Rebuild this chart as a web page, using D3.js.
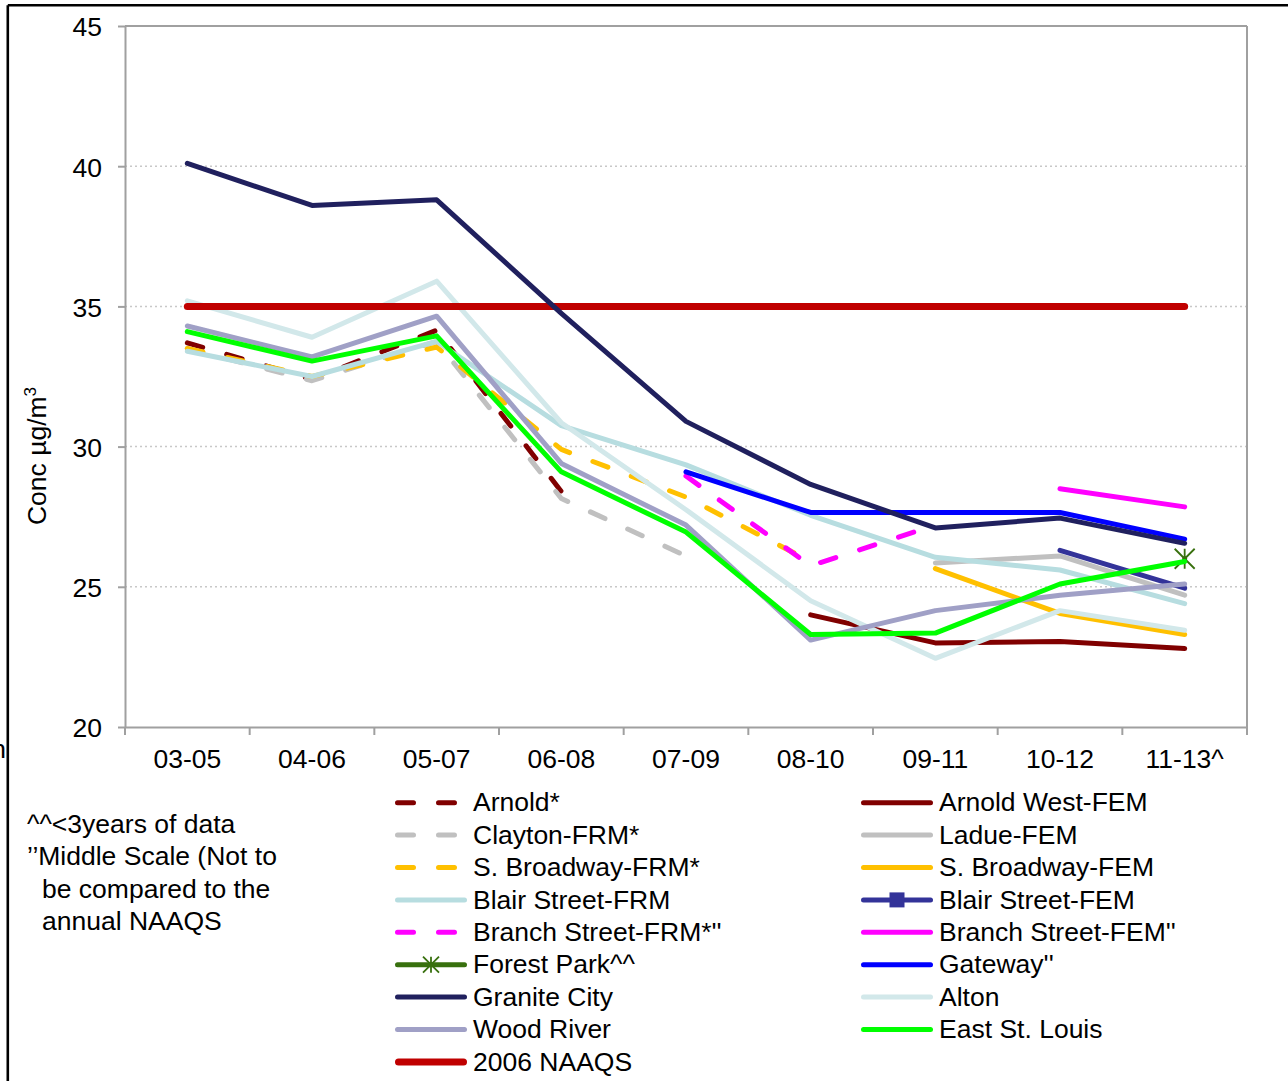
<!DOCTYPE html>
<meta charset="utf-8">

<style>
body { margin: 0; background: #fff; }
svg { font-family: "Liberation Sans", Arial, sans-serif; }
.axis text, .legend text, .note { font-size: 26.5px; fill: #000; }
.axis path, .axis line { stroke: #a0a0a0; stroke-width: 2px; }
.grid line { stroke: #c8c8c8; stroke-width: 1.5px; stroke-dasharray: 2,3; }
.series { fill: none; stroke-linejoin: round; stroke-linecap: round; }
</style>

<script src="https://d3js.org/d3.v7.min.js"></script>

<script>
  var categories = ["03-05", "04-06", "05-07", "06-08", "07-09", "08-10", "09-11", "10-12", "11-13^"];
  var yTicks = [20, 25, 30, 35, 40, 45];
  var gridTicks = [25, 30, 35, 40];

  // annual PM2.5 design values per site, null = no data for that period
  var arnold       = [33.7, 32.4, 34.15, 28.4, null, null, null, null, null];
  var arnoldWest   = [null, null, null, null, null, 24.0, 23.0, 23.05, 22.8];
  var clayton      = [33.5, 32.35, 33.75, 28.15, 26.1, null, null, null, null];
  var ladue        = [null, null, null, null, null, null, 25.85, 26.1, 24.7];
  var sBroadwayFrm = [33.5, 32.5, 33.55, 29.9, 28.2, 25.9, null, null, null];
  var sBroadwayFem = [null, null, null, null, null, null, 25.65, 24.05, 23.3];
  var blairFrm     = [33.4, 32.5, 33.75, 30.75, 29.35, 27.55, 26.05, 25.6, 24.4];
  var blairFem     = [null, null, null, null, null, null, null, 26.3, 24.95];
  var branchFrm    = [null, null, null, null, 28.95, 25.75, 27.2, null, null];
  var branchFem    = [null, null, null, null, null, null, null, 28.5, 27.85];
  var forestPark   = [null, null, null, null, null, null, null, null, 26.0];
  var gateway      = [null, null, null, null, 29.1, 27.65, 27.65, 27.65, 26.7];
  var graniteCity  = [40.1, 38.6, 38.8, 34.75, 30.9, 28.65, 27.1, 27.45, 26.55];
  var alton        = [35.2, 33.9, 35.9, 30.85, 27.75, 24.5, 22.45, 24.15, 23.45];
  var woodRiver    = [34.3, 33.2, 34.65, 29.4, 27.2, 23.1, 24.15, 24.7, 25.1];
  var eastStLouis  = [34.1, 33.05, 33.95, 29.1, 26.95, 23.3, 23.35, 25.1, 25.9];
  var naaqs        = [35, 35, 35, 35, 35, 35, 35, 35, 35];

  var noteLines = ["^^<3years of data", "’’Middle Scale (Not to", "be compared to the", "annual NAAQS"];
</script>

<body>
  <svg id="chart" width="1288" height="1081"></svg>
  <script>
    var svg = d3.select("#chart");

    // listed in drawing order; col/row give the legend slot
    var series = [
      {name: "Arnold*", values: arnold, color: "#800000", dash: true, col: 0, row: 0},
      {name: "Arnold West-FEM", values: arnoldWest, color: "#800000", col: 1, row: 0},
      {name: "Clayton-FRM*", values: clayton, color: "#c0c0c0", dash: true, col: 0, row: 1},
      {name: "Ladue-FEM", values: ladue, color: "#c0c0c0", col: 1, row: 1},
      {name: "S. Broadway-FRM*", values: sBroadwayFrm, color: "#ffc000", dash: true, col: 0, row: 2},
      {name: "S. Broadway-FEM", values: sBroadwayFem, color: "#ffc000", col: 1, row: 2},
      {name: "Blair Street-FRM", values: blairFrm, color: "#b7dde0", col: 0, row: 3},
      {name: "Blair Street-FEM", values: blairFem, color: "#333399", marker: "square", col: 1, row: 3},
      {name: "Branch Street-FRM*''", values: branchFrm, color: "#ff00ff", dash: true, col: 0, row: 4},
      {name: "Branch Street-FEM''", values: branchFem, color: "#ff00ff", col: 1, row: 4},
      {name: "Forest Park^^", values: forestPark, color: "#38700e", marker: "star", col: 0, row: 5},
      {name: "Gateway''", values: gateway, color: "#0000ff", col: 1, row: 5},
      {name: "Alton", values: alton, color: "#d2e8ea", col: 1, row: 6},
      {name: "Wood River", values: woodRiver, color: "#a0a0c6", col: 0, row: 7},
      {name: "East St. Louis", values: eastStLouis, color: "#00ff00", col: 1, row: 7},
      {name: "2006 NAAQS", values: naaqs, color: "#c00000", width: 7, col: 0, row: 8},
      {name: "Granite City", values: graniteCity, color: "#20205e", col: 0, row: 6}
    ];

    var x = d3.scaleBand().domain(categories).range([125, 1247]).padding(0);
    var y = d3.scaleLinear().domain([20, 45]).range([727, 26]);
    var cx = function(c) { return x(c) + x.bandwidth() / 2; };

    // outer frame
    svg.append("line").attr("x1", 7.8).attr("x2", 1288).attr("y1", 5.3).attr("y2", 5.3)
      .style("stroke", "#000").style("stroke-width", 2.6);
    svg.append("line").attr("x1", 7.8).attr("x2", 7.8).attr("y1", 5.3).attr("y2", 1081)
      .style("stroke", "#000").style("stroke-width", 2.6);
    svg.append("text").attr("class", "note").attr("x", 6).attr("y", 758).attr("text-anchor", "end").text("n");

    // gridlines
    svg.append("g").attr("class", "grid").selectAll("line").data(gridTicks).join("line")
      .attr("x1", 125).attr("x2", 1247).attr("y1", d => y(d)).attr("y2", d => y(d));

    // plot frame top / right
    svg.append("line").attr("x1", 125).attr("x2", 1247).attr("y1", y(45)).attr("y2", y(45))
      .style("stroke", "#a0a0a0").style("stroke-width", 2);
    svg.append("line").attr("x1", 1247).attr("x2", 1247).attr("y1", y(45)).attr("y2", y(20))
      .style("stroke", "#a0a0a0").style("stroke-width", 2);

    // y axis
    var yAxis = svg.append("g").attr("class", "axis").attr("transform", "translate(125,0)")
      .call(d3.axisLeft(y).tickValues(yTicks).tickSize(7).tickSizeOuter(0).tickPadding(16));
    yAxis.selectAll("text").attr("dy", "0.37em");

    // x axis: labels centred in bands, tick marks on band edges
    var xAxis = svg.append("g").attr("class", "axis").attr("transform", "translate(0," + y(20) + ")")
      .call(d3.axisBottom(x).tickSize(0).tickSizeOuter(0).tickPadding(22));
    xAxis.selectAll(".tick text").attr("dy", "0.71em");
    var edges = categories.map(c => x(c)).concat([x.range()[1]]);
    xAxis.selectAll("line.edge").data(edges).join("line").attr("class", "edge")
      .attr("x1", d => d).attr("x2", d => d).attr("y1", 0).attr("y2", 8);

    // y title
    var title = svg.append("text").attr("class", "note")
      .attr("transform", "translate(46,456) rotate(-90)").attr("text-anchor", "middle");
    title.append("tspan").text("Conc µg/m");
    title.append("tspan").attr("dy", -10).style("font-size", "17px").text("3");

    // lines
    var line = d3.line()
      .defined(d => d.v != null)
      .x(d => cx(d.c))
      .y(d => y(d.v));

    series.forEach(s => {
      var pts = categories.map((c, i) => ({c: c, v: s.values[i]}));
      svg.append("path").attr("class", "series")
        .attr("d", line(pts))
        .style("stroke", s.color)
        .style("stroke-width", s.width || 5)
        .style("stroke-dasharray", s.dash ? "16,25" : null);
      if (s.marker == "star") {
        pts.filter(d => d.v != null).forEach(d => drawStar(svg, cx(d.c), y(d.v), 10, s.color));
      }
    });

    function drawStar(g, px, py, r, color) {
      var p = "M" + (px - r) + "," + (py - r) + "L" + (px + r) + "," + (py + r) +
              "M" + (px - r) + "," + (py + r) + "L" + (px + r) + "," + (py - r) +
              "M" + px + "," + (py - r) + "L" + px + "," + (py + r);
      g.append("path").attr("d", p).style("stroke", color).style("stroke-width", 1.8).style("fill", "none");
    }

    // legend
    var legend = svg.append("g").attr("class", "legend");
    var colX = [395, 861];
    var rowY0 = 802.7, rowStep = 32.4;

    series.forEach(s => {
      var lx = colX[s.col];
      var ly = rowY0 + s.row * rowStep;
      var w = s.width || 5;
      legend.append("line").attr("class", "series")
        .attr("x1", lx + w / 2).attr("x2", lx + 72 - w / 2).attr("y1", ly).attr("y2", ly)
        .style("stroke", s.color).style("stroke-width", w)
        .style("stroke-dasharray", s.dash ? "16,25" : null);
      if (s.marker == "star") drawStar(legend, lx + 36, ly, 8, s.color);
      if (s.marker == "square") {
        legend.append("rect").attr("x", lx + 36 - 7.5).attr("y", ly - 7.5).attr("width", 15).attr("height", 15)
          .style("fill", s.color);
      }
      legend.append("text").attr("x", lx + 78).attr("y", ly + 8.6).text(s.name);
    });

    // footnote
    svg.append("g").selectAll("text").data(noteLines).join("text").attr("class", "note")
      .attr("x", (d, i) => i < 2 ? 27 : 42)
      .attr("y", (d, i) => 833 + i * 32.3)
      .text(d => d);
  </script>
</body>
